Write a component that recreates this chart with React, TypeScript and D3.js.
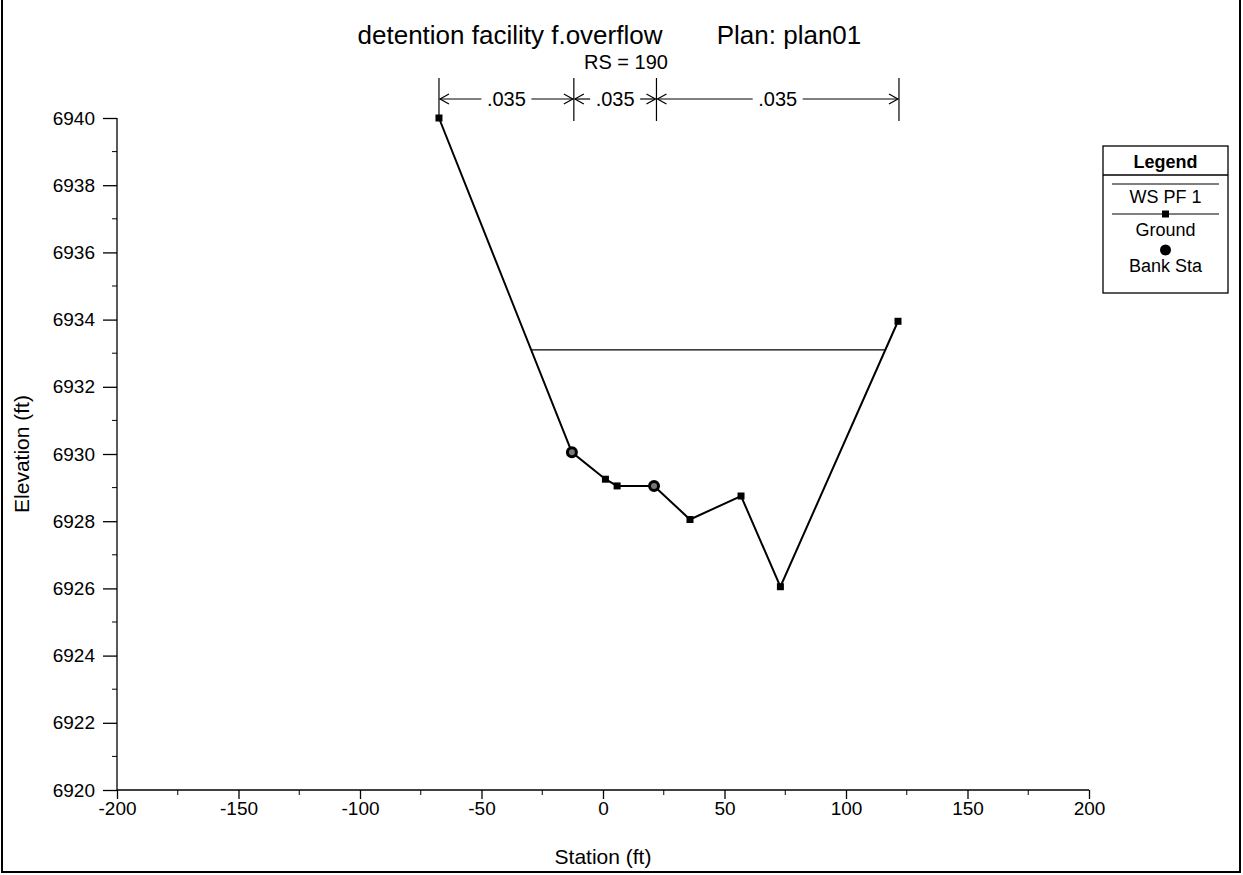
import React, { useEffect, useRef } from 'react';
import * as d3 from 'd3';

// cross section RS = 190
const stations = [-67.5, -12.8, 1, 5.8, 21, 35.8, 56.8, 73, 121.4];
const elevations = [6940, 6930.05, 6929.25, 6929.05, 6929.05, 6928.05, 6928.75, 6926.05, 6933.95];
const bankStations = [-12.8, 21];
const wsElevation = 6933.1;
const nBreaks = [-67.5, -12, 22, 121.8];
const nValues = ['.035', '.035', '.035'];
const xTicks = [-200, -150, -100, -50, 0, 50, 100, 150, 200];
const yTicks = [6920, 6922, 6924, 6926, 6928, 6930, 6932, 6934, 6936, 6938, 6940];

const FONT = 'Liberation Sans, Arial, sans-serif';

// ground elevation at a station by linear interpolation between surveyed points
function groundAt(s: number) {
  for (let i = 0; i < stations.length - 1; i++) {
    if (s >= stations[i] && s <= stations[i + 1]) {
      const t = (s - stations[i]) / (stations[i + 1] - stations[i]);
      return elevations[i] + t * (elevations[i + 1] - elevations[i]);
    }
  }
  return elevations[0];
}

// find where the water surface meets the ground on each side
function wsLimits(ws: number) {
  const hits: number[] = [];
  for (let i = 0; i < stations.length - 1; i++) {
    const a = elevations[i] - ws, b = elevations[i + 1] - ws;
    if (a === 0) hits.push(stations[i]);
    else if (a * b < 0) {
      const t = a / (a - b);
      hits.push(stations[i] + t * (stations[i + 1] - stations[i]));
    }
  }
  return [hits[0], hits[hits.length - 1]];
}

const CrossSection = () => {
  const ref = useRef(null);

  useEffect(() => {
    if (ref.current) draw(ref.current);
  }, []);

  return (
    <svg ref={ref} width={1243} height={875}
      style={{ position: 'absolute', left: 0, top: 0, background: '#fff' }} />
  );
};

function draw(node: SVGSVGElement) {
  const svg = d3.select(node);
  svg.selectAll('*').remove();

  const left = 117, right = 1089, top = 118, bottom = 790;

  const x = d3.scaleLinear().domain([-200, 200]).range([left, right]);
  const y = d3.scaleLinear().domain([6920, 6940]).range([bottom, top]);

  // page frame
  svg.append('rect')
    .attr('x', 2).attr('y', -2).attr('width', 1238).attr('height', 874)
    .attr('fill', 'none').attr('stroke', '#000').attr('stroke-width', 2);

  // titles
  svg.append('text').attr('x', 510).attr('y', 44).attr('text-anchor', 'middle')
    .style('font-family', FONT).style('font-size', '26px')
    .text('detention facility f.overflow');
  svg.append('text').attr('x', 789).attr('y', 44).attr('text-anchor', 'middle')
    .style('font-family', FONT).style('font-size', '26px')
    .text('Plan: plan01');
  svg.append('text').attr('x', 626).attr('y', 69).attr('text-anchor', 'middle')
    .style('font-family', FONT).style('font-size', '20px')
    .text('RS = 190');

  // axes
  const xAxis = d3.axisBottom(x).tickValues(xTicks).tickSize(9).tickPadding(3)
    .tickFormat(d => String(d));
  const gx = svg.append('g').attr('transform', `translate(0,${bottom})`).call(xAxis);
  gx.selectAll('text').style('font-family', FONT).style('font-size', '19px').attr('fill', '#000');
  gx.select('.domain').attr('d', `M${left},0H${right}`);
  gx.selectAll('.minor').data(d3.range(-175, 200, 50)).enter().append('line')
    .attr('x1', d => x(d)).attr('x2', d => x(d)).attr('y1', 0).attr('y2', 5)
    .attr('stroke', '#000');

  const yAxis = d3.axisLeft(y).tickValues(yTicks).tickSize(14).tickPadding(8)
    .tickFormat(d => String(d));
  const gy = svg.append('g').attr('transform', `translate(${left},0)`).call(yAxis);
  gy.selectAll('text').style('font-family', FONT).style('font-size', '19px').attr('fill', '#000');
  gy.select('.domain').attr('d', `M0,${bottom}V${top}`);
  gy.selectAll('.minor').data(d3.range(6921, 6940, 2)).enter().append('line')
    .attr('y1', d => y(d)).attr('y2', d => y(d)).attr('x1', 0).attr('x2', -5)
    .attr('stroke', '#000');
  svg.selectAll('.domain, .tick line').attr('stroke', '#000').attr('stroke-width', 1.3);

  svg.append('text').attr('transform', `translate(29,${(top + bottom) / 2}) rotate(-90)`)
    .attr('text-anchor', 'middle')
    .style('font-family', FONT).style('font-size', '21px')
    .text('Elevation (ft)');
  svg.append('text').attr('x', 603).attr('y', 864).attr('text-anchor', 'middle')
    .style('font-family', FONT).style('font-size', '21px')
    .text('Station (ft)');

  // manning's n break markers
  const nY = 99;
  const gn = svg.append('g').attr('stroke', '#000').attr('stroke-width', 1.2).attr('fill', 'none');
  nBreaks.forEach(s => {
    gn.append('line').attr('x1', x(s)).attr('x2', x(s)).attr('y1', 78).attr('y2', 121);
  });
  nValues.forEach((v, i) => {
    const x0 = x(nBreaks[i]), x1 = x(nBreaks[i + 1]);
    const mid = (x0 + x1) / 2;
    const half = 25;
    gn.append('line').attr('x1', x0 + 1).attr('x2', mid - half).attr('y1', nY).attr('y2', nY);
    gn.append('line').attr('x1', mid + half).attr('x2', x1 - 1).attr('y1', nY).attr('y2', nY);
    gn.append('path').attr('d', `M${x0 + 10},${nY - 5}L${x0 + 1},${nY}L${x0 + 10},${nY + 5}`);
    gn.append('path').attr('d', `M${x1 - 10},${nY - 5}L${x1 - 1},${nY}L${x1 - 10},${nY + 5}`);
    svg.append('text').attr('x', mid).attr('y', nY + 7).attr('text-anchor', 'middle')
      .style('font-family', FONT).style('font-size', '20px')
      .text(v);
  });

  // water surface
  const [wsL, wsR] = wsLimits(wsElevation);
  svg.append('line')
    .attr('x1', x(wsL)).attr('x2', x(wsR))
    .attr('y1', y(wsElevation)).attr('y2', y(wsElevation))
    .attr('stroke', '#000').attr('stroke-width', 1.2);

  // ground
  const line = d3.line<number>().x((d, i) => x(stations[i])).y(d => y(d));
  svg.append('path').datum(elevations).attr('d', line)
    .attr('fill', 'none').attr('stroke', '#000').attr('stroke-width', 2);
  svg.selectAll('.gpt').data(elevations).enter().append('rect')
    .attr('x', (d, i) => x(stations[i]) - 3.5).attr('y', d => y(d) - 3.5)
    .attr('width', 7).attr('height', 7).attr('fill', '#000');

  // bank stations
  svg.selectAll('.bank').data(bankStations).enter().append('circle')
    .attr('cx', d => x(d)).attr('cy', d => y(groundAt(d)))
    .attr('r', 4.5).attr('fill', '#777').attr('stroke', '#000').attr('stroke-width', 3);

  // legend
  const lg = svg.append('g');
  const lx = 1165.5;
  lg.append('rect').attr('x', 1103).attr('y', 146).attr('width', 125).attr('height', 147)
    .attr('fill', '#fff').attr('stroke', '#000').attr('stroke-width', 1.3);
  lg.append('text').attr('x', lx).attr('y', 168).attr('text-anchor', 'middle')
    .style('font-family', FONT).style('font-size', '18px').style('font-weight', 'bold')
    .text('Legend');
  lg.append('line').attr('x1', 1103).attr('x2', 1228).attr('y1', 175).attr('y2', 175)
    .attr('stroke', '#000').attr('stroke-width', 1.3);
  lg.append('line').attr('x1', 1112).attr('x2', 1219).attr('y1', 184).attr('y2', 184)
    .attr('stroke', '#000').attr('stroke-width', 1.2);
  lg.append('text').attr('x', lx).attr('y', 203).attr('text-anchor', 'middle')
    .style('font-family', FONT).style('font-size', '18px').text('WS PF 1');
  lg.append('line').attr('x1', 1112).attr('x2', 1219).attr('y1', 214).attr('y2', 214)
    .attr('stroke', '#000').attr('stroke-width', 1.2);
  lg.append('rect').attr('x', lx - 3.5).attr('y', 210.5).attr('width', 7).attr('height', 7).attr('fill', '#000');
  lg.append('text').attr('x', lx).attr('y', 236).attr('text-anchor', 'middle')
    .style('font-family', FONT).style('font-size', '18px').text('Ground');
  lg.append('circle').attr('cx', lx).attr('cy', 250).attr('r', 5.5).attr('fill', '#000');
  lg.append('text').attr('x', lx).attr('y', 272).attr('text-anchor', 'middle')
    .style('font-family', FONT).style('font-size', '18px').text('Bank Sta');
}

export default function App() {
  return <CrossSection />;
}
